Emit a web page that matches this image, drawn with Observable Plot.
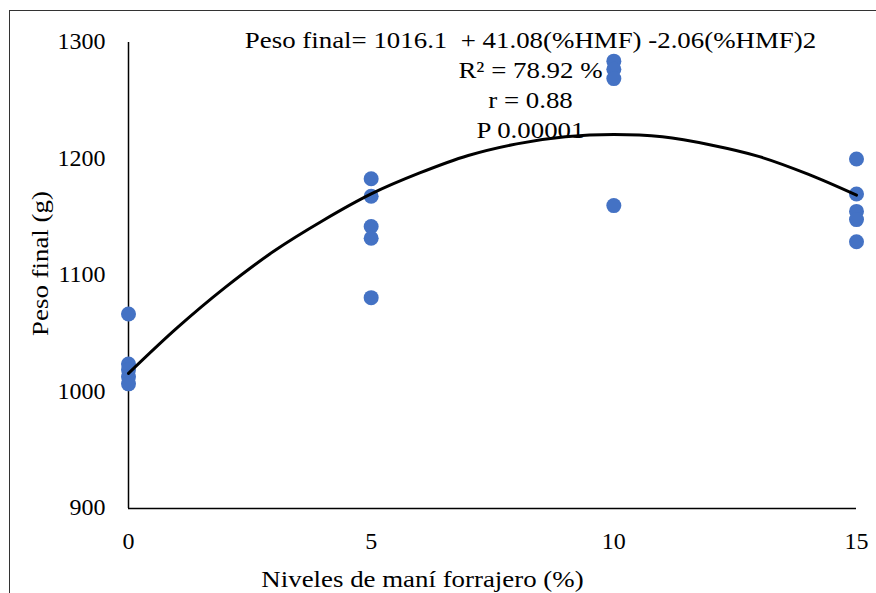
<!DOCTYPE html>
<html>
<head>
<meta charset="utf-8">
<script src="https://cdn.jsdelivr.net/npm/d3@7"></script>
<script src="https://cdn.jsdelivr.net/npm/@observablehq/plot@0.6"></script>
<style>
  html, body { margin: 0; padding: 0; background: #fff; }
  #wrap { position: relative; width: 876px; height: 593px; overflow: hidden; }
  #border { position: absolute; left: 9px; top: 10px; width: 900px; height: 700px;
            border-left: 1.5px solid #333; border-top: 1.5px solid #333; }
  #chart { position: absolute; left: 0; top: 0; }
</style>
</head>
<body>
<div id="wrap"><div id="border"></div><div id="chart"></div></div>
<script>
// Observed points: level of forage peanut (%) and final weight (g)
const levels0  = [0, 0, 0, 0, 0];
const weights0 = [1067, 1024, 1019, 1013, 1007];
const levels5  = [5, 5, 5, 5, 5];
const weights5 = [1183, 1168, 1142, 1132, 1081];
const levels10  = [10, 10, 10, 10];
const weights10 = [1284, 1277, 1269, 1160];
const levels15  = [15, 15, 15, 15, 15];
const weights15 = [1200, 1170, 1155, 1148, 1129];

// Fitted trend
const trendX = [0, 1, 2, 3, 4, 5, 6, 7, 8, 9, 10, 11, 12, 13, 14, 15];
const trendY = [1016, 1055, 1090, 1121, 1147, 1170, 1188, 1203, 1213, 1219, 1221, 1219, 1212, 1202, 1187, 1169];

const xTicks = [0, 5, 10, 15];
const yTicks = [900, 1000, 1100, 1200, 1300];

const annotationLines = [
  "Peso final= 1016.1\u00a0 + 41.08(%HMF) -2.06(%HMF)2",
  "R² = 78.92 %",
  "r = 0.88",
  "P 0.00001"
];
const xTitle = "Niveles de maní forrajero (%)";
const yTitle = "Peso final (g)";

const points = [];
[[levels0, weights0], [levels5, weights5], [levels10, weights10], [levels15, weights15]].forEach(([xs, ys]) => {
  xs.forEach((x, i) => points.push({x, y: ys[i]}));
});
const trend = trendX.map((x, i) => ({x, y: trendY[i]}));

const font = "'Liberation Serif', 'Times New Roman', serif";

const chart = Plot.plot({
  width: 876,
  height: 593,
  marginLeft: 128,
  marginRight: 20,
  marginTop: 42,
  marginBottom: 85,
  style: {fontFamily: font, fontSize: "22px"},
  x: {domain: [0, 15], ticks: xTicks},
  y: {domain: [900, 1300], ticks: yTicks},
  marks: [
    Plot.axisX({ticks: xTicks, tickFormat: d => String(d), tickSize: 0, tickPadding: 23, fontSize: 24, fontFamily: font, label: null, fill: "#000"}),
    Plot.axisY({ticks: yTicks, tickFormat: d => String(d), tickSize: 0, tickPadding: 23, fontSize: 24, fontFamily: font, label: null, fill: "#000", dy: -1}),
    Plot.ruleX([0], {stroke: "#000", strokeWidth: 1.5}),
    Plot.ruleY([900], {stroke: "#000", strokeWidth: 1.5}),
    Plot.dot(points, {x: "x", y: "y", r: 7.5, fill: "#4472C4", stroke: "none"}),
    Plot.line(trend, {x: "x", y: "y", curve: "catmull-rom", stroke: "#000", strokeWidth: 3}),
    Plot.text([annotationLines.join("\n")], {frameAnchor: "top", dx: 38, dy: -16, lineAnchor: "top",
      lineHeight: 1.25, fontSize: 24, fontFamily: font, fill: "#000", text: d => d, className: "stretch"}),
    Plot.text([xTitle], {frameAnchor: "bottom", dx: -70, dy: 78, fontSize: 24, fontFamily: font, fill: "#000", text: d => d, className: "stretch"}),
    Plot.text([yTitle], {frameAnchor: "left", textAnchor: "middle", dx: -88, dy: -12, rotate: -90, fontSize: 24, fontFamily: font, fill: "#000", text: d => d, className: "stretch"})
  ]
});
chart.style.background = "transparent";
// The reference's labels are slightly wider along their reading direction
chart.querySelectorAll(".stretch text").forEach(t => {
  const tr = t.getAttribute("transform") || "";
  t.setAttribute("transform", tr + " scale(1.12,1)");
});
document.getElementById("chart").appendChild(chart);
</script>
</body>
</html>
